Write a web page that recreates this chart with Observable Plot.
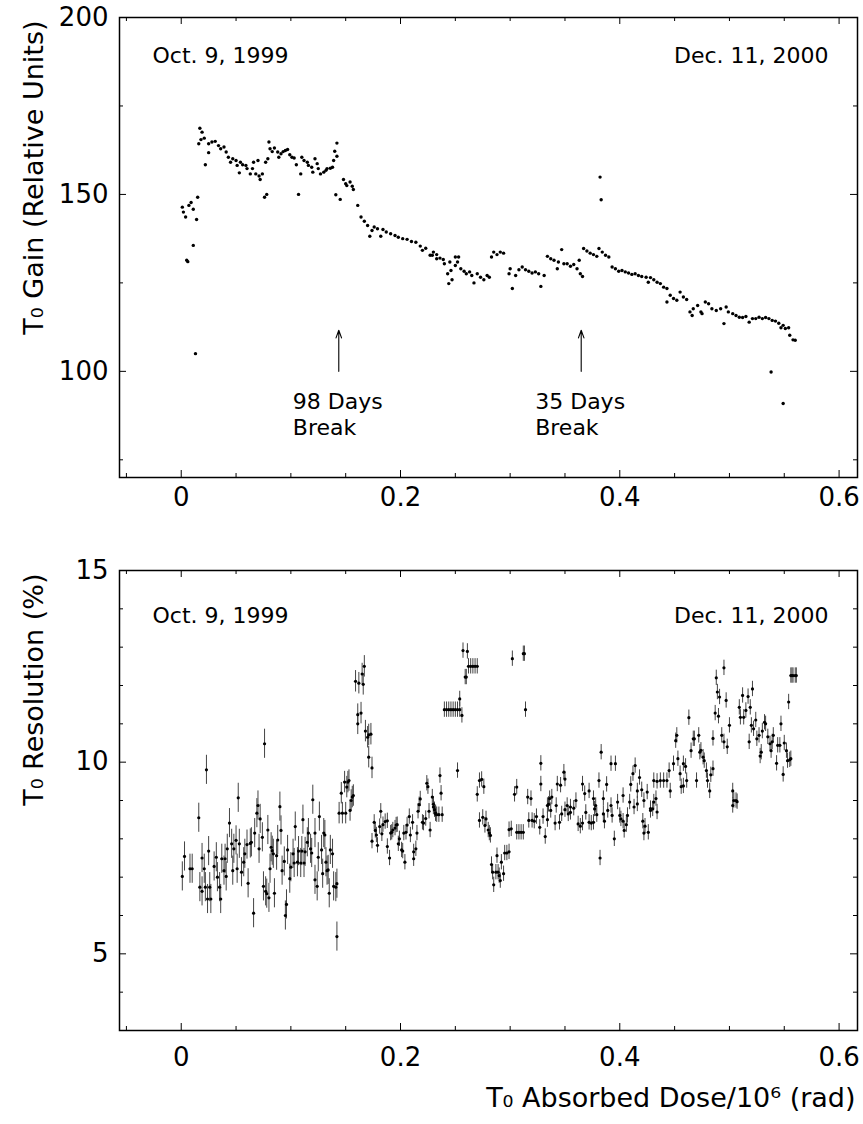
<!DOCTYPE html>
<html><head><meta charset="utf-8">
<script src="https://cdn.jsdelivr.net/npm/d3@7"></script>
<script src="https://cdn.jsdelivr.net/npm/@observablehq/plot@0.6"></script>
<style>
html,body{margin:0;padding:0;background:#fff;overflow:hidden}
#chart svg{display:block}
</style></head><body><div id="chart"></div>
<script>
// ---------- DATA ----------
// T0 gain vs absorbed dose (10^6 rad)
const gainSeg1 = [[0.001,146.4],[0.002,145.0],[0.004,143.6],[0.005,131.4],[0.006,131.0],[0.007,146.9],[0.009,147.7],[0.011,145.8],[0.011,135.6],[0.013,105.0],[0.014,142.9],[0.015,149.2],[0.016,164.3],[0.017,168.7],[0.018,165.5],[0.019,167.6],[0.021,165.9],[0.022,158.4],[0.025,161.8],[0.025,164.3],[0.028,164.8],[0.031,165.0],[0.034,163.8],[0.036,162.9],[0.039,163.4],[0.041,162.0],[0.043,160.5],[0.045,159.1],[0.047,160.1],[0.050,159.6],[0.051,158.2],[0.053,156.1],[0.054,159.1],[0.056,158.4],[0.059,158.2],[0.060,157.3],[0.063,155.8],[0.065,157.3],[0.066,159.1],[0.068,155.8],[0.070,159.6],[0.071,155.2],[0.072,154.2],[0.074,155.8],[0.076,149.2],[0.077,159.1],[0.078,150.0],[0.079,160.1],[0.080,164.8],[0.081,162.9],[0.083,162.1],[0.085,163.1],[0.088,162.0],[0.089,160.5],[0.091,161.5],[0.093,162.1],[0.095,162.4],[0.097,162.7],[0.099,161.2],[0.101,160.5],[0.103,160.3],[0.105,158.4],[0.107,150.0],[0.109,155.8],[0.110,160.5],[0.112,159.6],[0.115,159.1],[0.116,158.2],[0.119,157.7],[0.120,156.3],[0.122,160.1],[0.124,158.7],[0.125,157.3],[0.127,155.8],[0.130,156.3],[0.132,156.8],[0.133,157.3],[0.136,157.4],[0.138,157.7],[0.139,159.6],[0.140,162.2],[0.141,149.9],[0.142,164.5],[0.142,160.8]];
const gainSeg2 = [[0.145,148.6],[0.148,154.2],[0.150,153.0],[0.151,152.5],[0.154,153.5],[0.156,152.3],[0.157,151.4],[0.161,146.9],[0.164,143.6],[0.167,142.4],[0.170,141.2],[0.172,138.2],[0.174,139.8],[0.176,140.8],[0.179,140.3],[0.182,138.2],[0.184,140.1],[0.187,139.4],[0.191,138.9],[0.195,138.4],[0.198,137.9],[0.202,137.5],[0.206,137.3],[0.210,136.7],[0.214,136.5],[0.218,135.4],[0.220,134.2],[0.223,134.8],[0.227,132.8],[0.229,132.8],[0.230,133.7],[0.233,133.0],[0.233,131.8],[0.236,132.0],[0.239,131.6],[0.240,130.4],[0.243,127.6],[0.244,124.8],[0.245,130.9],[0.246,128.5],[0.247,125.9],[0.250,132.3],[0.250,129.9],[0.252,130.9],[0.253,132.3],[0.255,129.0],[0.258,128.3],[0.260,127.6],[0.263,128.1],[0.265,127.1],[0.267,125.0],[0.270,127.6],[0.273,126.6],[0.276,125.9],[0.279,127.1],[0.281,126.6],[0.283,132.3],[0.285,133.7],[0.288,133.0],[0.291,133.7],[0.294,133.4],[0.299,127.6],[0.300,129.0],[0.302,123.4],[0.305,127.1],[0.308,128.7],[0.311,129.5],[0.314,128.7],[0.317,128.3],[0.320,127.8],[0.323,128.1],[0.326,127.6],[0.328,124.0],[0.331,127.1],[0.334,132.5],[0.337,131.8],[0.340,131.4],[0.343,129.0],[0.344,130.9],[0.347,134.4],[0.349,130.4],[0.352,130.4],[0.355,129.7],[0.358,130.2],[0.361,129.0],[0.363,131.4],[0.364,127.6],[0.366,126.8]];
const gainSeg3 = [[0.367,134.7],[0.370,134.0],[0.373,133.4],[0.376,133.0],[0.379,132.5],[0.381,134.7],[0.382,154.9],[0.383,148.5],[0.384,133.7],[0.387,132.8],[0.390,132.3],[0.393,129.5],[0.396,129.0],[0.399,128.3],[0.402,128.5],[0.405,128.1],[0.408,127.8],[0.411,127.4],[0.414,127.6],[0.417,127.1],[0.420,126.8],[0.424,126.6],[0.426,125.2],[0.428,126.5],[0.431,125.9],[0.434,125.2],[0.437,124.8],[0.440,123.8],[0.443,123.4],[0.443,119.6],[0.446,121.5],[0.449,120.6],[0.452,120.1],[0.455,122.4],[0.458,121.0],[0.461,120.3],[0.464,116.8],[0.466,115.8],[0.467,117.7],[0.471,118.6],[0.474,116.8],[0.475,116.3],[0.478,119.6],[0.481,119.1],[0.484,117.7],[0.488,117.2],[0.492,117.7],[0.495,113.5],[0.497,118.2],[0.499,116.8],[0.503,116.3],[0.506,115.8],[0.509,115.3],[0.512,115.2],[0.515,115.5],[0.518,113.9],[0.521,114.9],[0.524,114.9],[0.527,115.3],[0.530,114.9],[0.533,115.2],[0.536,114.9],[0.538,99.8],[0.539,114.4],[0.542,114.2],[0.545,113.6],[0.547,112.3],[0.549,113.0],[0.549,90.9],[0.551,112.1],[0.554,112.3],[0.555,110.2],[0.558,108.9],[0.560,108.8]];

// T0 resolution (%) vs absorbed dose, with error half-widths per segment
const resSeg1 = [[0.001,7.02],[0.003,7.54],[0.008,7.22],[0.010,7.22],[0.016,8.55],[0.017,6.74],[0.019,7.50],[0.019,6.63],[0.021,7.22],[0.022,6.74],[0.023,9.80],[0.024,6.43],[0.025,7.68],[0.026,6.74],[0.027,6.43],[0.030,7.28],[0.032,7.52],[0.033,7.00],[0.035,6.74],[0.036,6.43],[0.037,7.48],[0.039,7.17],[0.040,7.48],[0.041,7.02],[0.042,7.74],[0.044,8.41],[0.046,7.87],[0.047,7.17],[0.048,7.74],[0.050,7.96],[0.051,7.22],[0.052,9.07],[0.053,7.87],[0.055,7.13],[0.057,7.39],[0.058,7.61],[0.060,7.85],[0.061,6.84],[0.063,7.88],[0.064,7.91],[0.066,6.06],[0.067,8.15],[0.069,8.67],[0.070,8.87],[0.071,7.74],[0.072,8.52],[0.074,8.04],[0.075,6.76],[0.076,10.48],[0.077,6.63],[0.078,6.57],[0.079,8.23],[0.080,6.46],[0.081,7.22],[0.082,7.78],[0.083,7.69],[0.084,7.61],[0.085,6.58],[0.087,7.56],[0.088,7.97],[0.090,8.84],[0.091,8.22],[0.092,7.17],[0.094,7.41],[0.095,6.00],[0.096,6.29],[0.097,7.71],[0.099,6.96],[0.100,7.26],[0.102,7.61],[0.103,7.37],[0.104,8.32],[0.106,7.39],[0.107,7.68],[0.109,7.37],[0.110,7.68],[0.111,8.50],[0.112,7.37],[0.113,7.66],[0.115,7.91],[0.116,8.15],[0.118,7.74],[0.119,7.63],[0.120,9.02],[0.122,8.15],[0.122,6.93],[0.124,6.76],[0.125,7.52],[0.126,8.58],[0.128,7.71],[0.129,7.09],[0.130,8.15],[0.131,8.10],[0.132,7.39],[0.133,7.17],[0.134,7.19],[0.135,6.58],[0.136,7.71],[0.138,7.61],[0.139,6.76],[0.141,6.74],[0.142,6.83],[0.142,5.45]];
const resSeg2 = [[0.144,8.67],[0.146,9.19],[0.147,8.67],[0.149,9.48],[0.150,8.67],[0.151,9.35],[0.152,9.48],[0.153,9.52],[0.154,8.74],[0.155,9.00],[0.156,9.09],[0.157,9.13],[0.159,12.11],[0.161,11.24],[0.161,11.00],[0.162,12.06],[0.164,11.28],[0.165,12.30],[0.166,12.03],[0.167,12.50],[0.168,10.81],[0.170,10.65],[0.171,10.71],[0.173,10.73],[0.171,10.13],[0.174,9.85]];
const resSeg3 = [[0.174,7.94],[0.176,8.43],[0.177,8.22],[0.178,8.10],[0.179,7.83],[0.181,8.32],[0.182,8.72],[0.183,8.13],[0.184,8.37],[0.186,8.45],[0.188,8.47],[0.188,7.80],[0.190,7.50],[0.191,8.15],[0.192,8.17],[0.193,8.23],[0.195,8.28],[0.196,8.36],[0.197,8.37],[0.198,7.87],[0.199,8.00],[0.201,7.71],[0.202,7.68],[0.203,8.15],[0.204,7.39],[0.205,8.17],[0.206,8.36],[0.208,8.58],[0.209,8.10],[0.211,8.43],[0.212,7.66],[0.212,7.48],[0.214,7.74],[0.215,8.15],[0.216,8.72],[0.217,8.89],[0.218,9.04],[0.220,8.43],[0.221,8.41],[0.223,8.53],[0.224,9.45],[0.225,9.36],[0.226,8.72],[0.227,8.23],[0.229,9.09],[0.230,8.90],[0.230,8.83],[0.231,8.76],[0.232,8.68],[0.232,8.65],[0.233,8.63],[0.235,8.63],[0.236,9.65],[0.237,9.19],[0.238,8.63],
[0.240,11.37],[0.242,11.37],[0.244,11.37],[0.246,11.37],[0.248,11.37],[0.250,11.37],[0.252,11.37],[0.254,11.37],[0.252,9.78],[0.254,11.65],[0.256,11.22],[0.257,12.91],[0.259,12.22],[0.260,12.22],[0.261,12.89],[0.262,12.50],[0.264,12.50],[0.266,12.50],[0.268,12.50],[0.270,12.50],[0.270,9.16],[0.272,9.52],[0.274,9.55],[0.276,9.36],
[0.272,8.48],[0.275,8.56],[0.277,8.35],[0.278,8.52],[0.280,8.23],[0.281,8.15],[0.282,8.09],[0.283,7.33],[0.284,7.13],[0.285,6.80],[0.287,7.13],[0.288,7.56],[0.289,7.13],[0.290,7.04],[0.291,6.91],[0.292,7.39],[0.294,7.09],[0.295,7.63],[0.297,7.63],[0.299,7.66],[0.299,8.24],[0.301,8.26],[0.302,12.70],[0.304,9.16],[0.306,9.35],[0.306,8.17],[0.308,8.17],[0.310,8.17],[0.312,8.17],[0.312,12.83],[0.313,12.83],[0.314,11.37],[0.316,9.09],[0.319,9.05],[0.317,8.48],[0.320,8.48],[0.322,8.46],[0.324,8.58],[0.327,8.30],[0.328,9.97],[0.328,9.43],[0.330,8.58],[0.332,8.06],[0.334,8.87],[0.334,8.50],[0.335,8.90],[0.336,9.05],[0.337,8.74],[0.338,9.09],[0.341,8.41],[0.342,8.87],[0.343,9.43],[0.345,8.43],[0.346,9.40],[0.347,8.65],[0.349,9.74],[0.350,9.56],[0.350,8.76],[0.352,8.87],[0.353,8.65],[0.355,8.83],[0.355,8.69],[0.358,8.80],[0.360,9.00],[0.362,8.39],[0.364,8.33],[0.366,9.43],[0.366,8.41],[0.368,9.18],[0.369,8.69],[0.372,9.25],[0.372,8.43],[0.374,8.41],[0.376,9.05],[0.376,8.43],[0.377,8.78],[0.378,8.87],[0.379,8.63],[0.381,9.52],[0.382,7.50],[0.383,10.26],[0.385,9.05],[0.385,8.65],[0.386,8.46],[0.388,9.42],[0.389,8.74],[0.392,9.96],[0.392,8.87],[0.393,8.61],[0.395,8.00],[0.396,9.96],[0.398,8.96],[0.400,8.61],[0.401,8.52],[0.403,9.13],[0.403,8.46],[0.404,8.22],[0.406,8.37],[0.407,8.61],[0.409,8.96],[0.410,9.42],[0.412,9.70],[0.413,8.83],[0.414,9.91],[0.416,9.25],[0.416,8.91],[0.418,9.60],[0.420,9.28],[0.421,8.46],[0.422,9.00],[0.422,8.15],[0.423,8.33],[0.425,9.22],[0.426,8.17],[0.428,8.79],[0.428,8.74],[0.430,8.78],[0.431,9.52],[0.431,8.96],[0.433,9.05],[0.434,9.50],[0.434,8.70],[0.437,9.52],[0.440,9.52],[0.443,9.52],[0.445,9.78],[0.446,9.25],[0.449,9.96],[0.451,10.56],[0.452,10.70],[0.453,10.09],[0.455,9.70],[0.456,9.36],[0.458,9.96],[0.458,9.38],[0.460,9.89],[0.461,9.52],[0.463,11.16],[0.465,10.30],[0.467,10.61],[0.468,10.61],[0.470,9.52],[0.472,10.70],[0.473,10.26],[0.474,10.31],[0.476,10.13],[0.477,10.04],[0.479,9.78],[0.480,9.52],[0.482,9.25],[0.483,9.67],[0.485,10.62],[0.485,9.83],[0.487,11.28],[0.488,12.20],[0.489,11.83],[0.490,11.20],[0.491,11.70],[0.493,10.70],[0.495,10.53],[0.495,12.46],[0.497,11.61],[0.498,10.40],[0.500,10.96],[0.503,9.25],[0.503,8.87],[0.504,9.00],[0.506,9.00],[0.507,8.97],[0.509,11.43],[0.510,11.17],[0.512,11.74],[0.513,11.17],[0.515,11.35],[0.517,11.71],[0.518,10.53],[0.519,11.43],[0.520,10.96],[0.521,11.91],[0.522,10.87],[0.524,11.10],[0.525,10.61],[0.527,10.70],[0.528,10.16],[0.529,10.26],[0.530,10.81],[0.532,11.04],[0.533,11.00],[0.535,10.66],[0.537,10.48],[0.538,10.30],[0.539,10.53],[0.540,10.70],[0.543,9.97],[0.544,10.44],[0.546,10.44],[0.547,11.00],[0.549,9.68],[0.550,10.50],[0.552,10.30],[0.553,10.04],[0.554,11.57],[0.555,10.06],[0.556,10.09],[0.556,12.26],[0.557,12.26],[0.558,12.26],[0.560,12.26],[0.561,12.26]];
const resErr = [0.38, 0.28, 0.2];   // half-length of the error bars for each segment

// axes / annotations
const xDomain = [-0.0563, 0.6168];
const xMajor = [0, 0.2, 0.4, 0.6];
const xMinor = [-0.05, 0.05, 0.1, 0.15, 0.25, 0.3, 0.35, 0.45, 0.5, 0.55];
const gainDomain = [70, 200];
const gainMajor = [100, 150, 200];
const gainMinor = [75, 125, 175];
const resDomain = [3, 15];
const resMajor = [5, 10, 15];
const resMinor = [4, 6, 7, 8, 9, 11, 12, 13, 14];
const dateLabels = ["Oct. 9, 1999", "Dec. 11, 2000"];
const breakDose = [0.1437, 0.3648];
const breakLabels = ["98 Days\nBreak", "35 Days\nBreak"];
const arrowFrom = 100, arrowTo = 111.6;
const titles = {gain: "T₀ Gain (Relative Units)", res: "T₀ Resolution (%)", x: "T₀ Absorbed Dose/10⁶ (rad)"};

// ---------- DRAWING ----------
const FONT = "DejaVu Sans";
const W = 863, ML = 119, MR = 6;
const innerW = W - ML - MR;

function tickMarks(H, yMajor, yMinor) {
  const big = 7, small = 4;
  return [
    Plot.ruleX(xMajor, {x: d => d, insetTop: H - big, strokeWidth: 1}),
    Plot.ruleX(xMajor, {x: d => d, insetBottom: H - big, strokeWidth: 1}),
    Plot.ruleX(xMinor, {x: d => d, insetTop: H - small, strokeWidth: 1}),
    Plot.ruleX(xMinor, {x: d => d, insetBottom: H - small, strokeWidth: 1}),
    Plot.ruleY(yMajor, {y: d => d, insetRight: innerW - big, strokeWidth: 1}),
    Plot.ruleY(yMajor, {y: d => d, insetLeft: innerW - big, strokeWidth: 1}),
    Plot.ruleY(yMinor, {y: d => d, insetRight: innerW - small, strokeWidth: 1}),
    Plot.ruleY(yMinor, {y: d => d, insetLeft: innerW - small, strokeWidth: 1})
  ];
}

function panel({height, marginTop, marginBottom, yDomain, yMajor, yMinor, yTitle, dateDy, xPad, marks}) {
  const H = height - marginTop - marginBottom;
  return Plot.plot({
    width: W, height, marginTop, marginBottom, marginLeft: ML, marginRight: MR,
    style: {fontFamily: FONT, background: "white", color: "black"},
    x: {domain: xDomain},
    y: {domain: yDomain},
    marks: [
      ...marks,
      ...tickMarks(H, yMajor, yMinor),
      Plot.frame({strokeWidth: 1.5}),
      Plot.axisX({ticks: xMajor, tickSize: 0, tickPadding: xPad, fontSize: 26, tickFormat: d => String(d), label: null}),
      Plot.axisY({ticks: yMajor, tickSize: 0, tickPadding: 11, fontSize: 26, tickFormat: d => String(d), label: null}),
      Plot.text([dateLabels[0]], {frameAnchor: "top-left", text: d => d, dx: 33, dy: dateDy, textAnchor: "start", lineAnchor: "top", fontSize: 22, fontFamily: FONT}),
      Plot.text([dateLabels[1]], {frameAnchor: "top-right", text: d => d, dx: -29, dy: dateDy, textAnchor: "end", lineAnchor: "top", fontSize: 22, fontFamily: FONT}),
      Plot.text([yTitle], {frameAnchor: "top-left", text: d => d, rotate: -90, textAnchor: "end", lineAnchor: "bottom", dx: 42 - ML, dy: 3, fontSize: 27, fontFamily: FONT})
    ]
  });
}

const gainDot = (data) => Plot.dot(data, {x: d => d[0], y: d => d[1], r: 1.7, fill: "black", stroke: "none"});
const resMarks = [];
[resSeg1, resSeg2, resSeg3].forEach((seg, i) => {
  resMarks.push(Plot.ruleX(seg, {x: d => d[0], y1: d => d[1] - resErr[i], y2: d => d[1] + resErr[i], stroke: "#444", strokeWidth: 1}));
});
[resSeg1, resSeg2, resSeg3].forEach(seg => {
  resMarks.push(Plot.dot(seg, {x: d => d[0], y: d => d[1], r: 1.6, fill: "black", stroke: "none"}));
});

const gainPlot = panel({
  height: 535, marginTop: 17, marginBottom: 58,
  yDomain: gainDomain, yMajor: gainMajor, yMinor: gainMinor, yTitle: titles.gain, dateDy: 30, xPad: 10,
  marks: [
    gainDot(gainSeg1), gainDot(gainSeg2), gainDot(gainSeg3),
    Plot.arrow(breakDose, {x1: d => d, x2: d => d, y1: arrowFrom, y2: arrowTo, stroke: "black", strokeWidth: 1.1, headLength: 11, headAngle: 40}),
    Plot.text(breakDose, {x: d => d, y: arrowFrom, text: (d, i) => breakLabels[i], textAnchor: "start", lineAnchor: "top", dx: -46, dy: 19, fontSize: 22, lineHeight: 1.2, fontFamily: FONT})
  ]
});

const resPlot = panel({
  height: 589, marginTop: 35, marginBottom: 94,
  yDomain: resDomain, yMajor: resMajor, yMinor: resMinor, yTitle: titles.res, dateDy: 37, xPad: 17,
  marks: [
    ...resMarks,
    Plot.text([titles.x], {frameAnchor: "bottom-right", text: d => d, textAnchor: "end", lineAnchor: "bottom", dx: -2, dy: 76, fontSize: 27, fontFamily: FONT})
  ]
});

const root = document.getElementById("chart");
root.appendChild(gainPlot);
root.appendChild(resPlot);
</script>
</body></html>
